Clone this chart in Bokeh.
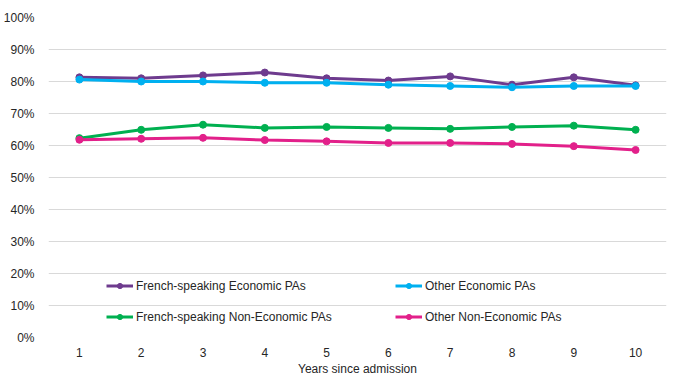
from bokeh.plotting import figure
from bokeh.models import Legend, LegendItem, FixedTicker, Range1d
from bokeh.embed import file_html
from bokeh.resources import INLINE

years = [1, 2, 3, 4, 5, 6, 7, 8, 9, 10]
fr_econ = [81.3, 81.0, 81.9, 82.8, 81.0, 80.3, 81.6, 79.0, 81.3, 78.8]
other_econ = [80.6, 80.0, 80.0, 79.6, 79.6, 79.0, 78.6, 78.2, 78.6, 78.6]
fr_nonecon = [62.3, 64.9, 66.5, 65.5, 65.8, 65.5, 65.2, 65.8, 66.2, 64.9]
other_nonecon = [61.8, 62.1, 62.4, 61.7, 61.3, 60.8, 60.8, 60.5, 59.8, 58.6]
y_ticks = [0, 10, 20, 30, 40, 50, 60, 70, 80, 90, 100]

series = [
    ("French-speaking Economic PAs", fr_econ, "#6E3B8E"),
    ("French-speaking Non-Economic PAs", fr_nonecon, "#00B050"),
    ("Other Economic PAs", other_econ, "#00B0F0"),
    ("Other Non-Economic PAs", other_nonecon, "#E2208A"),
]

FONT = "Liberation Sans"
TXT = "#262626"

p = figure(frame_width=618, frame_height=320, output_backend="svg", toolbar_location=None,
           x_range=Range1d(0.5, 10.5), y_range=Range1d(0, 100),
           min_border_left=41, min_border_right=1, min_border_top=17, min_border_bottom=39)
p.outline_line_color = None
p.background_fill_color = "white"
p.border_fill_color = "white"

renderers = {}
for name, vals, col in series:
    l = p.line(years, vals, line_color=col, line_width=3)
    c = p.scatter(years, vals, size=7, fill_color=col, line_color=col)
    renderers[name] = [l, c]

p.xgrid.grid_line_color = None
p.ygrid.grid_line_color = "#D9D9D9"
p.ygrid.grid_line_width = 1

p.yaxis.ticker = FixedTicker(ticks=y_ticks)
p.yaxis.major_label_overrides = {v: f"{v}%" for v in y_ticks}
p.xaxis.ticker = FixedTicker(ticks=years)

for ax in (p.xaxis[0], p.yaxis[0]):
    ax.axis_line_color = None
    ax.major_tick_line_color = None
    ax.minor_tick_line_color = None
    ax.major_label_text_font = FONT
    ax.major_label_text_font_size = "12px"
    ax.major_label_text_color = TXT
    ax.axis_label_text_font = FONT
    ax.axis_label_text_font_size = "12px"
    ax.axis_label_text_color = TXT
    ax.axis_label_text_font_style = "normal"

p.yaxis.major_label_standoff = 8
p.xaxis.major_label_standoff = 4
p.xaxis.axis_label = "Years since admission"
p.xaxis.axis_label_standoff = 2

order = ["French-speaking Economic PAs", "Other Economic PAs",
         "French-speaking Non-Economic PAs", "Other Non-Economic PAs"]
items = [LegendItem(label=n, renderers=renderers[n]) for n in order]
legend = Legend(items=items, location=(58, 5), orientation="horizontal", ncols=2,
                padding=0, margin=0, spacing=0, label_height=31, glyph_height=13,
                glyph_width=27, label_standoff=3, label_width=259,
                label_text_font=FONT, label_text_font_size="12px", label_text_color=TXT,
                background_fill_alpha=0, border_line_color=None)
p.add_layout(legend, "center")

open("out.html", "w").write(file_html(p, INLINE))
